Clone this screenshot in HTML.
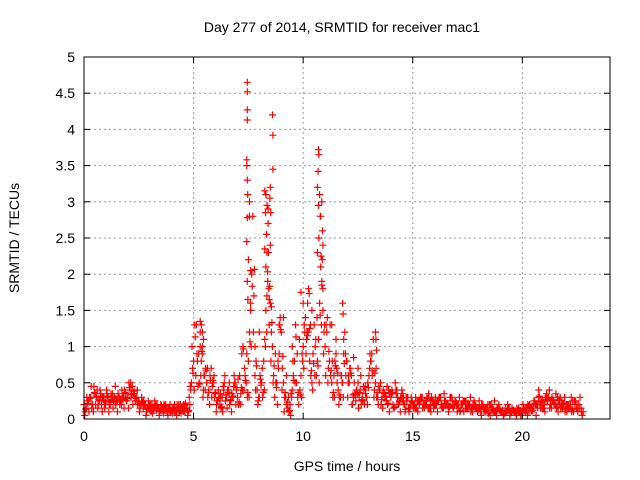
<!DOCTYPE html>
<html><head><meta charset="utf-8"><style>
body{margin:0;background:#fff}
svg{display:block;font-family:"Liberation Sans",sans-serif}
</style></head><body>
<svg id="chart" width="640" height="480" xmlns="http://www.w3.org/2000/svg">
<rect width="640" height="480" fill="#fff"/>
<g id="grid"></g>
<g id="marks"></g>
<rect x="84" y="57" width="526" height="362" fill="none" stroke="#000" stroke-width="1"/>
<g id="axes"></g>
<text x="342" y="32" text-anchor="middle" font-size="14">Day 277 of 2014, SRMTID for receiver mac1</text>
<text x="347" y="471" text-anchor="middle" font-size="14">GPS time / hours</text>
<text transform="translate(19,238) rotate(-90)" text-anchor="middle" font-size="14">SRMTID / TECUs</text>
</svg>
<script>
const xTicks=[0,5,10,15,20];
const yTicks=[0,0.5,1,1.5,2,2.5,3,3.5,4,4.5,5];
const yTickLabels=["0","0.5","1","1.5","2","2.5","3","3.5","4","4.5","5"];
const baseA=[.2,.15,.25,.3,.2,.35,.4,.25,.2,.3,.25,.3,.2,.35,.3,.25,.3,.2,.3,.35,.3,.4,.45,.35,.3,.25,.2,.15,.2,.15,.15,.2,.15,.12,.15,.2,.15,.12,.1,.15,.12,.15,.1,.15,.2,.15,.1,.15,.3,.5,.8,.6,.45,1.2,1.0,.6,.5,.4,.7,.5,.35,.25,.2,.3,.5,.3,.4,.25,.3,.5,.3,.6,.9,.4,.5,.8,1.5,2.8,.6,.4,.3,.5,.8,1.5,2.9,1.6,1.0,.3,.5,.9,1.2,.5,.3,.15,.2,.4,.8,.5,.2,.6,1.0,1.4,1.6,.8,.5,1.3,.6,1.1,2.8,1.5,1.0,1.4,.8,.5,.6,.9,.4,.3,.5,1.2,.8,.5,.6,.3,.25,.5,.4,.3,.2,.3,.6,.8,1.1,.5,.3,.4,.3,.35,.25,.4,.3,.2,.5,.3,.25,.4,.2,.3,.15,.2,.2,.15,.25,.2,.3,.2,.25,.15,.2,.25,.2,.25,.3,.2,.15,.25,.2,.3,.25,.2,.2,.15,.2,.25,.15,.2,.2,.15,.25,.15,.15,.1,.2,.15,.12,.2,.15,.1,.12,.15,.1,.12,.08,.1,.15,.1,.12,.08,.1,.12,.1,.12,.15,.1,.12,.15,.2,.15,.2,.15,.2,.35,.3,.2,.25,.2,.3,.2,.25,.2,.2,.15,.2,.25,.15,.2,.15,.1];
const baseB=[.1,.25,.3,.15,.45,.3,.2,.35,.3,.15,.35,.2,.3,.25,.2,.35,.25,.3,.4,.25,.5,.3,.35,.25,.2,.15,.25,.2,.1,.2,.1,.15,.2,.15,.1,.12,.2,.15,.15,.1,.15,.1,.2,.1,.12,.2,.15,.1,.45,.7,1.3,.9,.5,.8,.4,.7,.3,.6,.45,.3,.2,.3,.15,.45,.25,.4,.2,.35,.6,.4,.2,.35,1.0,.6,.3,1.2,2.0,1.7,.8,.25,.55,.3,1.1,2.3,1.3,1.2,.6,.5,.8,1.4,.7,.3,.2,.1,.35,.6,1.3,.3,.4,.9,1.3,1.1,1.8,.6,.9,1.0,.8,1.6,1.9,1.2,1.3,.7,.6,.3,.8,.5,.3,.6,.9,.6,.5,.7,.2,.35,.4,.3,.2,.45,.35,.5,.9,.6,.4,.3,.45,.2,.4,.3,.2,.35,.4,.15,.35,.2,.3,.25,.1,.3,.15,.25,.2,.15,.25,.3,.15,.2,.3,.15,.3,.15,.2,.25,.3,.15,.25,.2,.15,.3,.15,.25,.2,.1,.2,.25,.15,.2,.1,.2,.15,.1,.15,.2,.1,.15,.08,.2,.12,.1,.15,.12,.1,.06,.1,.15,.08,.12,.1,.15,.1,.08,.15,.12,.2,.18,.12,.25,.2,.4,.25,.15,.3,.25,.15,.3,.2,.15,.25,.15,.2,.1,.2,.15,.1];
const baseC=[.05,.3,.1,.45,.1,.2,.15,.4,.1,.2,.4,.1,.35,.15,.45,.1,.2,.4,.15,.25,.15,.5,.2,.3,.4,.1,.3,.25,.05,.25,.2,.08,.25,.2,.05,.18,.08,.2,.05,.2,.08,.2,.05,.2,.08,.1,.22,.05,.2,1.0,.4,1.3,.9,.6,.3,.4,.7,.2,.3,.6,.1,.4,.35,.1,.6,.15,.5,.1,.45,.2,.55,.2,.4,.7,.9,.3,1.0,1.2,.4,.2,.6,.7,.4,1.2,1.8,.8,.5,.9,.2,1.3,.4,.1,.6,.3,.05,.8,.5,.9,1.1,.3,.7,.9,1.2,1.3,.4,.6,1.4,.5,1.3,.9,.6,.5,1.3,.8,.3,.7,.2,.6,.3,.9,.3,.7,.2,.5,.4,.15,.6,.25,.45,.2,.7,.9,.3,.7,.2,.5,.15,.3,.45,.1,.35,.15,.4,.2,.1,.35,.2,.25,.1,.3,.15,.3,.1,.25,.3,.15,.2,.35,.1,.25,.3,.1,.3,.15,.35,.2,.1,.3,.15,.25,.1,.3,.2,.1,.25,.15,.3,.1,.2,.15,.25,.05,.15,.1,.2,.05,.15,.25,.05,.2,.1,.05,.15,.2,.05,.15,.1,.05,.15,.05,.2,.1,.05,.2,.1,.25,.05,.3,.15,.25,.1,.3,.4,.15,.25,.35,.1,.3,.15,.3,.1,.2,.3,.1,.25,.1,.3,.05];
const spikeTimes=[7.45,7.45,7.45,7.45,7.43,7.43,7.45,7.47,7.45,7.43,7.5,7.45,7.48,7.55,7.55,7.6,7.6,8.6,8.62,8.62,8.25,8.3,8.35,8.28,8.4,8.33,8.25,8.42,8.3,8.38,8.35,8.5,8.48,8.52,8.5,8.45,8.55,10.7,10.72,10.68,10.65,10.75,10.7,10.78,10.72,10.65,10.8,10.85,10.88,10.9,10.82,10.85,10.9,9.9,10.0,10.1,10.3,10.2,10.4,5.3,5.35,5.4,5.45,5.3,5.4,11.8,11.82,11.85,13.3,13.32,13.35,7.8,8.0,8.9,9.1,9.5,11.3,11.5,12.3,12.5];
const spikeVals=[4.65,4.52,4.27,4.13,3.58,3.5,3.3,3.1,2.78,2.45,2.2,1.9,1.65,3.0,2.8,2.05,1.6,4.2,3.92,3.45,3.15,3.1,2.95,2.85,2.7,2.55,2.35,2.3,2.1,1.9,1.7,3.2,3.05,2.85,2.4,1.65,1.55,3.72,3.65,3.42,3.2,3.1,2.95,2.8,2.5,2.3,2.1,3.0,2.6,2.4,2.25,1.85,1.8,1.75,1.6,1.4,1.25,1.15,1.5,1.35,1.3,1.2,1.1,1.0,0.9,1.6,1.45,1.1,1.2,1.1,0.95,1.0,1.2,1.3,1.4,1.0,1.3,1.1,0.85,0.7];
const L=84,R=610,T=57,B=419,XMAX=24,YMAX=5;
const xS=v=>L+v/XMAX*(R-L), yS=v=>B-v/YMAX*(B-T);
const NS="http://www.w3.org/2000/svg";
const grid=document.getElementById('grid'),axes=document.getElementById('axes'),marks=document.getElementById('marks');
function mk(tag,attrs,parent){const e=document.createElementNS(NS,tag);for(const k in attrs)e.setAttribute(k,attrs[k]);parent.appendChild(e);return e;}
yTicks.forEach((v,i)=>{const y=yS(v);
 if(v>0&&v<YMAX){const g=mk('line',{x1:L,x2:R,y1:y,y2:y,stroke:'#999','stroke-dasharray':'2,3'},grid);
 
 }
 const t=mk('line',{x1:L,x2:L+6,y1:y,y2:y,stroke:'#000'},axes);
 
 
 mk('line',{x1:R,x2:R-6,y1:y,y2:y,stroke:'#000'},axes);
 const lb=mk('text',{x:L-9,y:y+5,'text-anchor':'end','font-size':14},axes);lb.textContent=yTickLabels[i];
 
 });
xTicks.forEach(v=>{const x=xS(v);
 if(v>0){const g=mk('line',{x1:x,x2:x,y1:T,y2:B,stroke:'#999','stroke-dasharray':'2,3'},grid);
 
 }
 mk('line',{x1:x,x2:x,y1:B,y2:B-6,stroke:'#000'},axes);
 mk('line',{x1:x,x2:x,y1:T,y2:T+6,stroke:'#000'},axes);
 const lb=mk('text',{x:x,y:B+22,'text-anchor':'middle','font-size':14},axes);lb.textContent=String(v);
 
 });
let d='';
function plus(t,v){const x=xS(t),y=yS(v);d+=`M${(x-3.5).toFixed(1)} ${y.toFixed(1)}h7M${x.toFixed(1)} ${(y-3.5).toFixed(1)}v7`;}
baseA.forEach((v,i)=>plus(i*0.1,v));
baseB.forEach((v,i)=>plus(i*0.1+0.05,v));
baseC.forEach((v,i)=>plus(i*0.1+0.03,v));
baseA.forEach((v,i)=>{const n=baseB[i]!==undefined?baseB[i]:v;plus(i*0.1+0.075,(v+n*2)/3);});
spikeTimes.forEach((t,i)=>plus(t,spikeVals[i]));
const p=mk('path',{d:d,stroke:'#f00','stroke-width':1.2,fill:'none'},marks);


</script>
</body></html>
